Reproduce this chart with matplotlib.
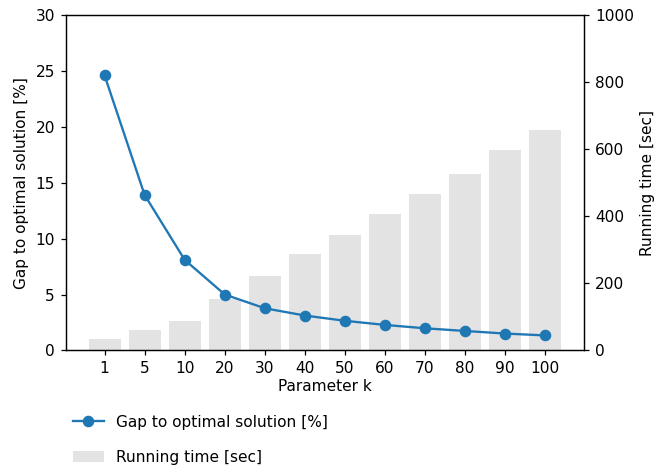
import matplotlib
matplotlib.use("Agg")
import matplotlib.pyplot as plt
import numpy as np

k_labels = ["1", "5", "10", "20", "30", "40", "50", "60", "70", "80", "90", "100"]
gap = [24.6, 13.9, 8.1, 5.0, 3.77, 3.12, 2.65, 2.28, 1.98, 1.74, 1.51, 1.34]
runtime = [35, 61, 89, 154, 222, 288, 344, 406, 466, 525, 596, 656]

DPI = 111
fig = plt.figure(figsize=(657 / DPI, 466 / DPI), dpi=DPI)
ax1 = fig.add_axes([0.1, 0.248, 0.789, 0.72])
ax2 = ax1.twinx()

x = np.arange(len(k_labels))
bars = ax2.bar(x, runtime, width=0.8, color="#e3e3e3", label="Running time [sec]")
line, = ax1.plot(x, gap, marker="o", color="#1f77b4", markersize=6.5, linewidth=1.5,
                 label="Gap to optimal solution [%]")

ax1.set_zorder(ax2.get_zorder() + 1)
ax1.patch.set_visible(False)

ax1.set_ylim(0, 30)
ax2.set_ylim(0, 1000)
ax1.set_xticks(x)
ax1.set_xticklabels(k_labels)
ax1.set_xlim(-0.97, 11.97)
ax1.set_xlabel("Parameter k", labelpad=2)
ax1.set_ylabel("Gap to optimal solution [%]")
ax2.set_ylabel("Running time [sec]")

fig.legend([line, bars], ["Gap to optimal solution [%]", "Running time [sec]"],
           loc="upper left", bbox_to_anchor=(0.0895, 0.1395), frameon=False,
           labelspacing=1.3, bbox_transform=fig.transFigure)

fig.savefig("out.png", dpi=DPI)
